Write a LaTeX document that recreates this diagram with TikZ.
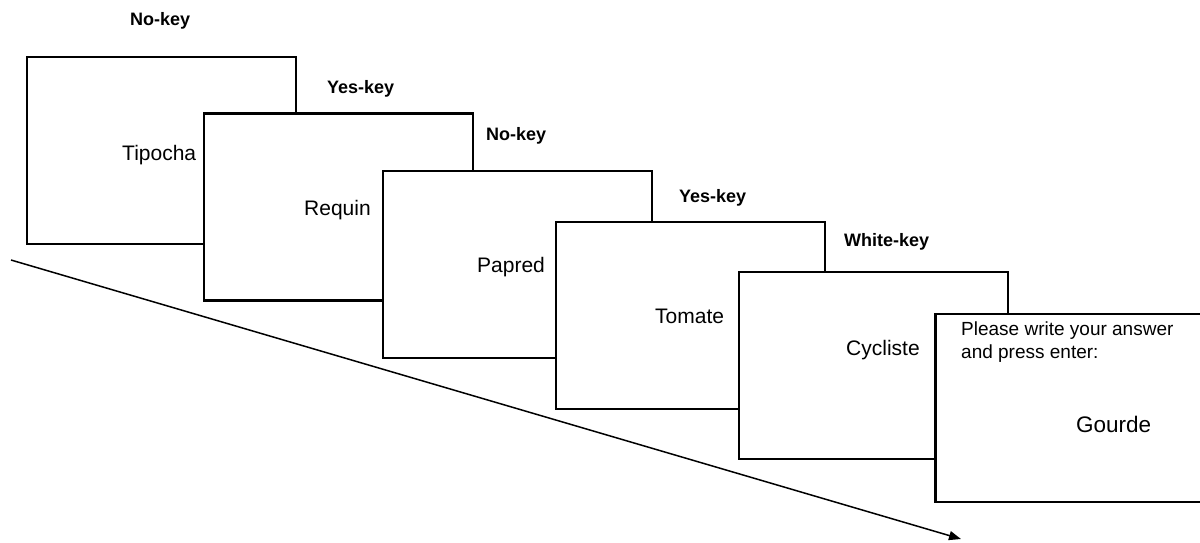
\documentclass[tikz,border=0pt]{standalone}
\usepackage{fontspec}
\setmainfont{Liberation Sans}
\usetikzlibrary{arrows.meta}
\begin{document}
\begin{tikzpicture}[x=1pt,y=-1pt,
  screen/.style={draw, fill=white, line width=2.3pt, inner sep=0pt, outer sep=0pt,
    minimum width=269pt, minimum height=187pt},
  word/.style={anchor=base west, inner sep=0pt, font=\fontsize{21}{25}\selectfont},
  keylabel/.style={anchor=base west, inner sep=0pt, font=\fontsize{18}{21}\selectfont\bfseries},
  prompt/.style={anchor=base west, inner sep=0pt, font=\fontsize{19}{23}\selectfont}]
\useasboundingbox (0,0) rectangle (1200,542);
\clip (0,0) rectangle (1200,542);

% stacked screens, each drawn over the previous one
\node[screen] (s1) at (161.5,150.5) {};
\node[screen] (s2) at (338.5,207) {};
\node[screen] (s3) at (517.5,264.5) {};
\node[screen] (s4) at (690.5,315.5) {};
\node[screen] (s5) at (873.5,365.5) {};
\node[screen, minimum height=188pt] (s6) at (1070,408) {};

% words shown on the screens
\node[word] (w1) at (122,160) {Tipocha};
\node[word] (w2) at (304,215) {Requin};
\node[word] (w3) at (477,272) {Papred};
\node[word] (w4) at (655,323) {Tomate};
\node[word] (w5) at (846,355) {Cycliste};
\node[prompt] (p1) at (961,335) {Please write your answer};
\node[prompt] (p2) at (961,358) {and press enter:};
\node[word, font=\fontsize{22.5}{27}\selectfont] (w6) at (1076,432) {Gourde};

% expected key responses
\node[keylabel] (k1) at (130,25) {No-key};
\node[keylabel] (k2) at (327,93) {Yes-key};
\node[keylabel] (k3) at (486,140) {No-key};
\node[keylabel] (k4) at (679,202) {Yes-key};
\node[keylabel] (k5) at (844,246) {White-key};

% time axis
\coordinate (tstart) at (11,260);
\coordinate (tend) at (961,539);
\draw[line width=1.5pt, -{Triangle[length=12pt,width=9pt]}] (tstart) -- (tend);
\end{tikzpicture}
\end{document}
